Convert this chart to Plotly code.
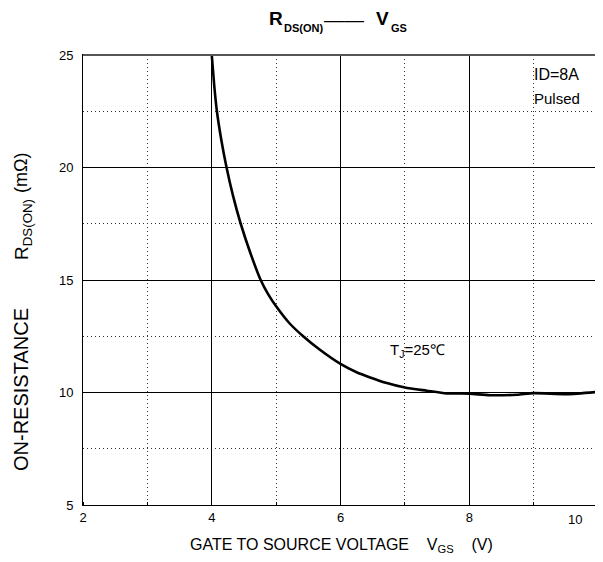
import plotly.graph_objects as go

# Data
vgs = [4.0, 4.04, 4.08, 4.15, 4.23, 4.33, 4.45, 4.60, 4.76, 4.88, 5.0, 5.2, 5.42,
       5.68, 6.0, 6.25, 6.46, 6.72, 7.0, 7.34, 7.65, 8.0, 8.32, 8.74, 9.0, 9.52, 10.0]
rds = [25.0, 23.6, 22.5, 21.2, 20.0, 18.75, 17.5, 16.2, 15.0, 14.35, 13.83, 13.1, 12.5,
       11.9, 11.27, 10.9, 10.67, 10.42, 10.22, 10.08, 9.96, 9.95, 9.88, 9.90, 9.97, 9.93, 10.03]

x_tickvals = [2, 4, 6, 8]
x_ticktext = ["2", "4", "6", "8"]
y_tickvals = [5, 10, 15, 20, 25]
y_ticktext = ["5", "10", "15", "20", "25"]

FONT = "Liberation Sans, Arial, sans-serif"
NB = "\u00a0"

# The page body adds an 8px margin, so the figure is 8px smaller than the window.
OFF = 8
W, H = 603 - OFF, 562 - OFF
L, R, T, B = 83, 598, 55, 505   # plot area in window pixels


def px(xp):
    return (xp - L) / (R - L)


def py(yp):
    return 1 - (yp - T) / (B - T)


fig = go.Figure()
fig.add_trace(go.Scatter(
    x=vgs, y=rds, mode="lines",
    line=dict(color="black", width=2.6, shape="spline", smoothing=0.6),
    showlegend=False, hoverinfo="skip",
))

dotgrid = dict(showgrid=True, gridcolor="#333333", griddash="1px,3px", gridwidth=1)

fig.update_layout(
    width=W, height=H,
    margin=dict(l=L - OFF, r=603 - R, t=T - OFF, b=562 - B),
    paper_bgcolor="white", plot_bgcolor="white",
    font=dict(family=FONT, color="black", size=13),
    xaxis=dict(
        range=[2, 10], tickvals=x_tickvals, ticktext=x_ticktext,
        showgrid=True, gridcolor="black", gridwidth=1,
        showline=True, linecolor="black", linewidth=1, mirror=True,
        ticks="", zeroline=False, automargin=False,
        minor=dict(dtick=1, tick0=2, ticks="inside", ticklen=3, tickcolor="black", **dotgrid),
        tickfont=dict(size=13),
    ),
    yaxis=dict(
        range=[5, 25], tickvals=y_tickvals, ticktext=y_ticktext,
        showgrid=True, gridcolor="black", gridwidth=1,
        showline=True, linecolor="black", linewidth=1, mirror=True,
        ticks="", zeroline=False, automargin=False, ticklabelstandoff=6,
        minor=dict(dtick=2.5, tick0=5, **dotgrid),
        tickfont=dict(size=13),
    ),
    shapes=[dict(type="line", xref="x domain", yref="y domain", x0=0, x1=1, y0=1, y1=1,
                 line=dict(color="#555555", width=2))],
)

ann = [
    # chart title, built from pieces: R, DS(ON), dash, V, GS
    dict(text="<b>R</b>", x=px(267), y=py(19), xanchor="left", yanchor="middle",
         font=dict(size=19)),
    dict(text="<b>DS(ON)</b>", x=px(282), y=py(28), xanchor="left", yanchor="middle",
         font=dict(size=11)),
    dict(text="——", x=px(322), y=py(20), xanchor="left", yanchor="middle",
         font=dict(size=20)),
    dict(text="<b>V</b>", x=px(374), y=py(19), xanchor="left", yanchor="middle",
         font=dict(size=19)),
    dict(text="<b>GS</b>", x=px(389), y=py(28), xanchor="left", yanchor="middle",
         font=dict(size=11)),
    # x axis title
    dict(text="GATE TO SOURCE VOLTAGE" + NB * 4 + "V<sub>GS</sub>" + NB * 4 + "(V)",
         x=px(341), y=py(545), xanchor="center", yanchor="middle", font=dict(size=16)),
    # y axis title (three pieces, as spaced in the reference)
    dict(text="ON-RESISTANCE", x=px(21), y=py(390), xanchor="center", yanchor="middle",
         textangle=-90, font=dict(size=20)),
    dict(text="R<sub>DS(ON)</sub>", x=px(23), y=py(230), xanchor="center", yanchor="middle",
         textangle=-90, font=dict(size=19)),
    dict(text="(mΩ)", x=px(21), y=py(173), xanchor="center", yanchor="middle",
         textangle=-90, font=dict(size=18)),
    # last x tick label, drawn inside the frame as in the reference
    dict(text="10", x=px(575), y=py(519), xanchor="center", yanchor="middle",
         font=dict(size=13)),
    dict(text="ID=8A", x=px(532), y=py(75), xanchor="left", yanchor="middle",
         font=dict(size=16)),
    dict(text="Pulsed", x=px(532), y=py(98), xanchor="left", yanchor="middle",
         font=dict(size=15)),
    dict(text="T<sub>J</sub>=25℃", x=px(388), y=py(350), xanchor="left", yanchor="middle",
         font=dict(size=15)),
]
for a in ann:
    a.update(xref="x domain", yref="y domain", showarrow=False)
fig.update_layout(annotations=ann)

fig.write_html("out.html")
